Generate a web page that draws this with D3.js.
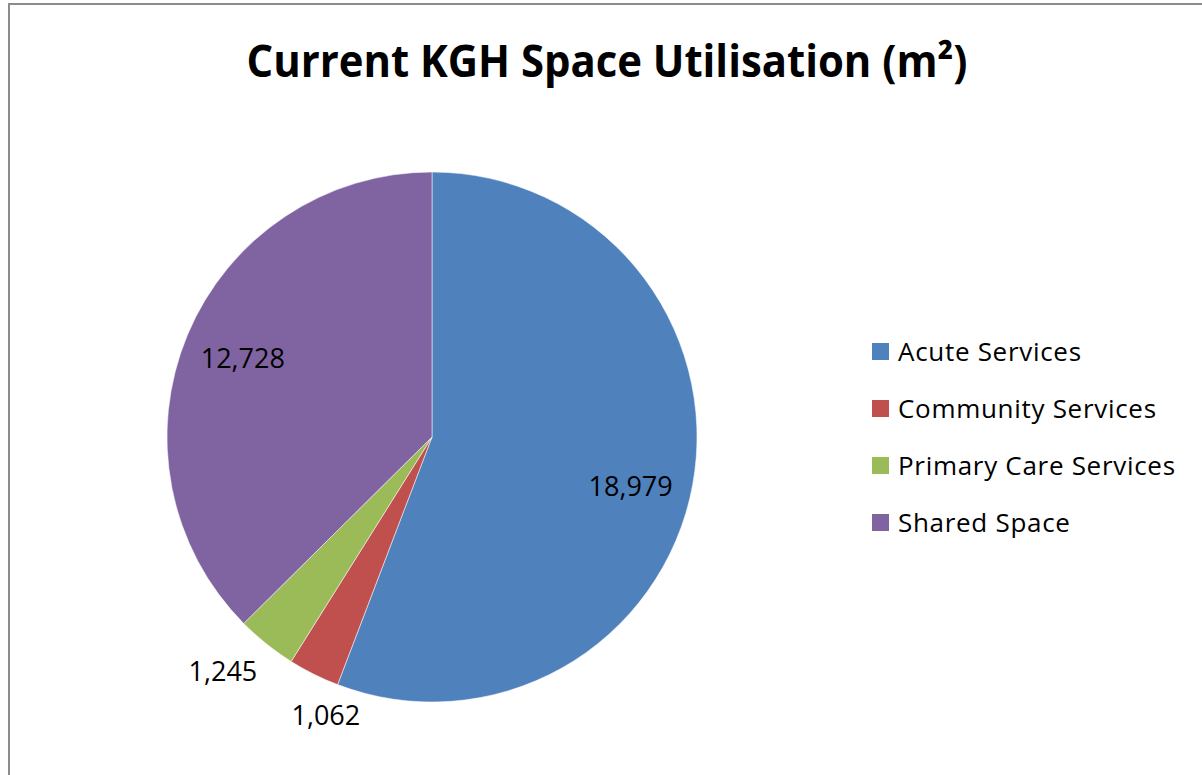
<!DOCTYPE html>
<html>
<head>
    <meta charset="utf-8">
    <title>Current KGH Space Utilisation</title>
    <script src="https://d3js.org/d3.v7.min.js"></script>
    <style>
        body { margin: 0; background: #fff; }
        text { font-family: "Open Sans", sans-serif; fill: #000; }
    </style>
</head>
<body>
<script type="text/javascript">
    // chart data
    let categories = ["Acute Services", "Community Services", "Primary Care Services", "Shared Space"];
    let areas = [18979, 1062, 1245, 12728];
    let colours = ["#4F81BD", "#C0504D", "#9BBB59", "#8064A2"];

    let width = 1202, height = 775;
    let cx = 432, cy = 437, radius = 265;

    let svg = d3.select("body").append("svg")
        .attr("width", width)
        .attr("height", height);

    // chart frame (runs off the right / bottom edge like the original)
    svg.append("rect")
        .attr("x", 9).attr("y", 4)
        .attr("width", 1400).attr("height", 1000)
        .attr("fill", "none")
        .attr("stroke", "#8c8c8c")
        .attr("stroke-width", 2);

    // title
    svg.append("text")
        .attr("x", 607).attr("y", 77)
        .attr("text-anchor", "middle")
        .attr("font-weight", "bold")
        .attr("font-size", 44)
        .attr("textLength", 721)
        .attr("lengthAdjust", "spacingAndGlyphs")
        .text("Current KGH Space Utilisation  (m²)");

    let data = categories.map((c, i) => ({ name: c, value: areas[i], colour: colours[i] }));

    let pie = d3.pie().sort(null).value(d => d.value);
    let arc = d3.arc().innerRadius(0).outerRadius(radius);
    let arcs = pie(data);

    let g = svg.append("g")
        .attr("transform", "translate(" + cx + "," + cy + ")");

    g.selectAll("path.slice")
        .data(arcs)
        .join("path")
        .attr("class", "slice")
        .attr("d", arc)
        .attr("fill", d => d.data.colour)
        .attr("stroke", "rgba(255,255,255,0.5)")
        .attr("stroke-width", 1);

    // data labels: large slices inside, small ones outside (best fit)
    let inner = d3.arc().innerRadius(205).outerRadius(205);
    let outer = d3.arc().innerRadius(312).outerRadius(312);
    let nudge = {
        "Acute Services": [-3, 12],
        "Community Services": [33, -1],
        "Primary Care Services": [-14, -9]
    };
    let fmt = d3.format(",");

    g.selectAll("text.lbl")
        .data(arcs)
        .join("text")
        .attr("class", "lbl")
        .attr("transform", d => {
            let small = (d.endAngle - d.startAngle) < 0.5;
            let p = small ? outer.centroid(d) : inner.centroid(d);
            let n = nudge[d.data.name] || [0, 0];
            return "translate(" + (p[0] + n[0]) + "," + (p[1] + n[1]) + ")";
        })
        .attr("text-anchor", "middle")
        .attr("dy", "0.36em")
        .attr("font-size", 27)
        .text(d => fmt(d.data.value));

    // legend
    let legend = svg.append("g")
        .attr("transform", "translate(872,343)");

    let rows = legend.selectAll("g")
        .data(data)
        .join("g")
        .attr("transform", (d, i) => "translate(0," + (i * 57) + ")");

    rows.append("rect")
        .attr("width", 17).attr("height", 17)
        .attr("fill", d => d.colour);

    rows.append("text")
        .attr("x", 26).attr("y", 8.5)
        .attr("dy", "0.36em")
        .attr("font-size", 26)
        .attr("letter-spacing", 0.7)
        .text(d => d.name);
</script>
</body>
</html>
